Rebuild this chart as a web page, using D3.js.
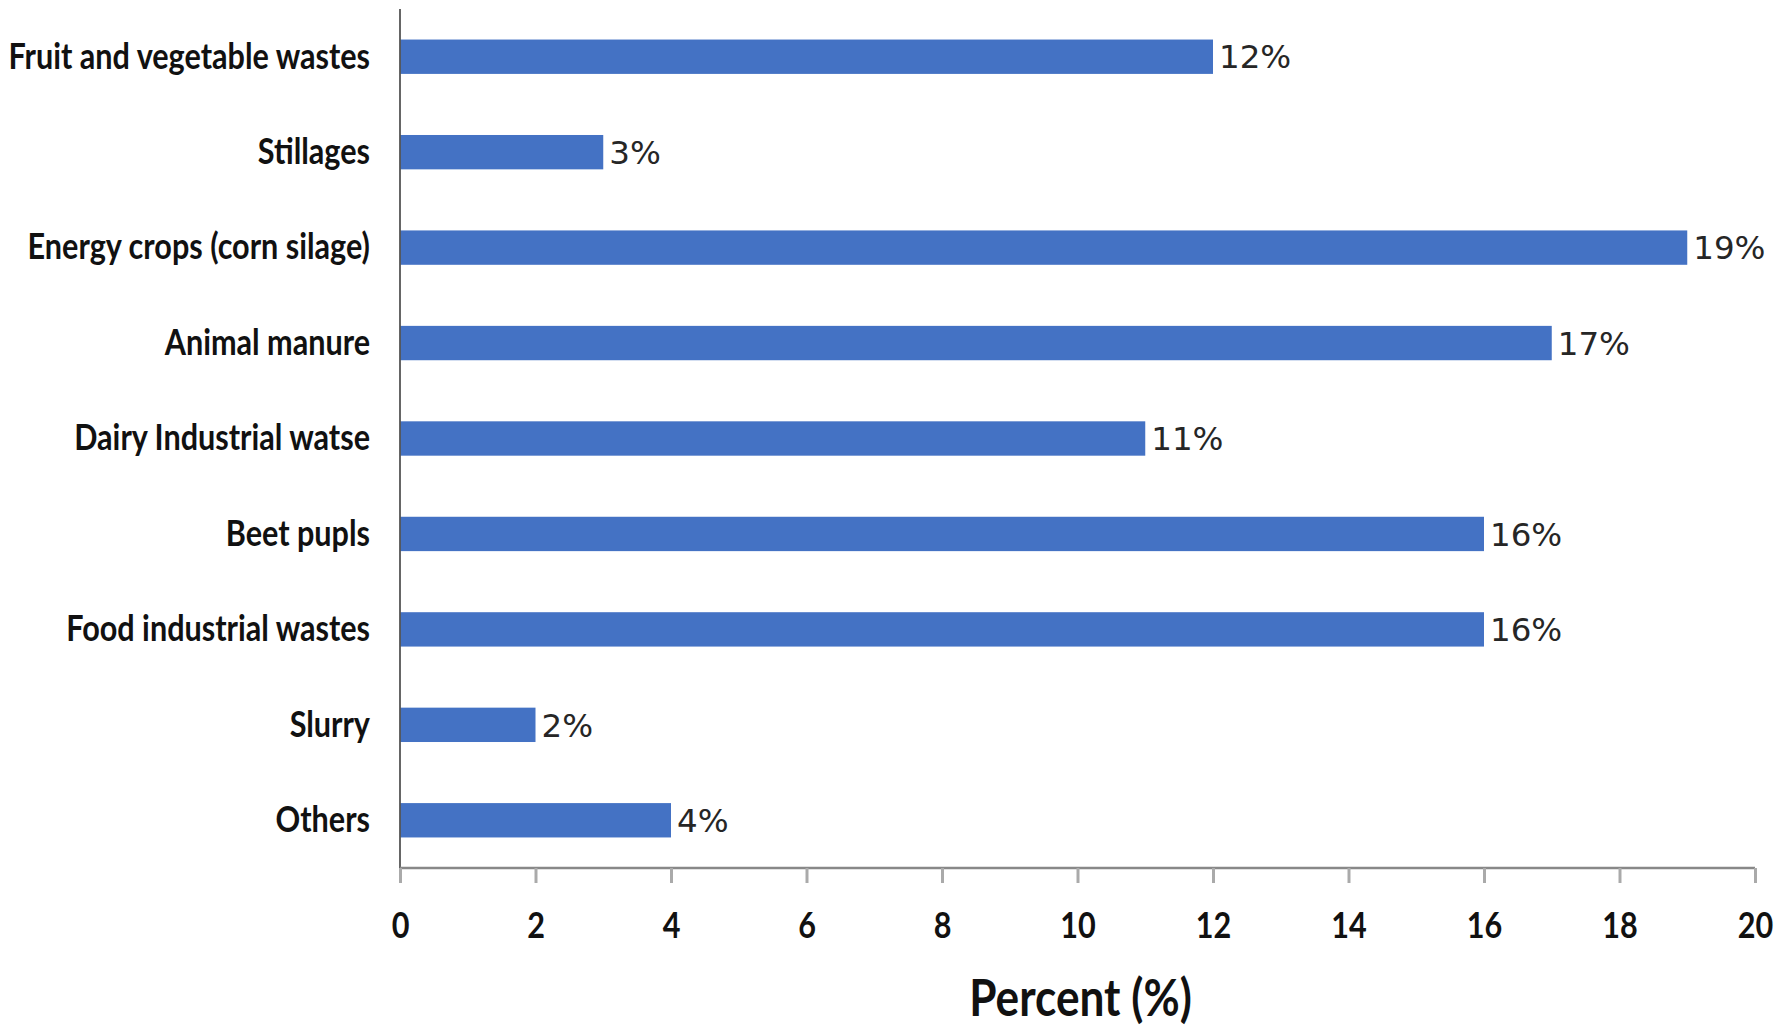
<!DOCTYPE html>
<html>
<head>
<meta charset="utf-8">
<script src="https://cdn.jsdelivr.net/npm/d3@7"></script>
<style>
  body { margin: 0; background: #fff; }
  svg { display: block; }
</style>
</head>
<body>
<script>
const width = 1783;
const height = 1036;

const categories = [
  "Fruit and vegetable wastes",
  "Stillages",
  "Energy crops (corn silage)",
  "Animal manure",
  "Dairy Industrial watse",
  "Beet pupls",
  "Food industrial wastes",
  "Slurry",
  "Others"
];
const values = [12, 3, 19, 17, 11, 16, 16, 2, 4];
const xTicks = [0, 2, 4, 6, 8, 10, 12, 14, 16, 18, 20];

const margin = { left: 400, right: 28, top: 9, bottom: 168 };
const squeeze = 0.85; // the original type is narrow, squash Lato a bit

const svg = d3.select("body")
  .append("svg")
  .attr("width", width)
  .attr("height", height);

const x = d3.scaleLinear()
  .domain([0, 20])
  .range([margin.left, width - margin.right]);

const y = d3.scaleBand()
  .domain(categories)
  .range([margin.top, height - margin.bottom])
  .paddingInner(0.64)
  .paddingOuter(0.32);

const axisY = height - margin.bottom;
const labelFont = "Lato, 'Open Sans', sans-serif";

// bars
svg.selectAll(".bar")
  .data(categories)
  .enter()
  .append("rect")
  .attr("class", "bar")
  .attr("x", x(0))
  .attr("y", d => y(d))
  .attr("width", (d, i) => x(values[i]) - x(0))
  .attr("height", y.bandwidth())
  .attr("fill", "#4472C4");

// value labels
svg.selectAll(".value")
  .data(categories)
  .enter()
  .append("text")
  .attr("class", "value")
  .attr("x", (d, i) => x(values[i]) + 6)
  .attr("y", d => y(d) + y.bandwidth() / 2)
  .attr("dy", "0.36em")
  .attr("font-family", "'DejaVu Sans', Verdana, sans-serif")
  .attr("font-size", 32.5)
  .attr("fill", "#262626")
  .text((d, i) => values[i] + "%");

// category labels
svg.selectAll(".cat")
  .data(categories)
  .enter()
  .append("text")
  .attr("class", "cat")
  .attr("transform", d => `translate(${margin.left - 30},${y(d) + y.bandwidth() / 2}) scale(${squeeze},1)`)
  .attr("dy", "0.33em")
  .attr("text-anchor", "end")
  .attr("font-family", labelFont)
  .attr("font-weight", "bold")
  .attr("font-size", 36)
  .attr("fill", "#111")
  .text(d => d);

// y axis line
svg.append("line")
  .attr("x1", x(0)).attr("x2", x(0))
  .attr("y1", margin.top).attr("y2", axisY)
  .attr("stroke", "#555")
  .attr("stroke-width", 1.8);

// x axis
const xAxis = svg.append("g")
  .attr("transform", `translate(0,${axisY})`)
  .call(d3.axisBottom(x)
    .tickValues(xTicks)
    .tickSize(15)
    .tickFormat(d3.format("d")));

xAxis.select(".domain")
  .attr("stroke", "#888")
  .attr("stroke-width", 2.5)
  .attr("d", `M${x(0)},0H${x(20)}`);

xAxis.selectAll(".tick line")
  .attr("stroke", "#aaa")
  .attr("stroke-width", 3);

xAxis.selectAll(".tick text")
  .attr("y", 70)
  .attr("dy", null)
  .attr("transform", `scale(${squeeze},1)`)
  .attr("font-family", labelFont)
  .attr("font-weight", "bold")
  .attr("font-size", 36)
  .attr("fill", "#111");

// axis title
svg.append("text")
  .attr("transform", `translate(${(x(0) + x(20)) / 2 + 3},1016) scale(${squeeze},1)`)
  .attr("text-anchor", "middle")
  .attr("font-family", labelFont)
  .attr("font-weight", "bold")
  .attr("font-size", 52)
  .attr("fill", "#111")
  .text("Percent (%)");
</script>
</body>
</html>
